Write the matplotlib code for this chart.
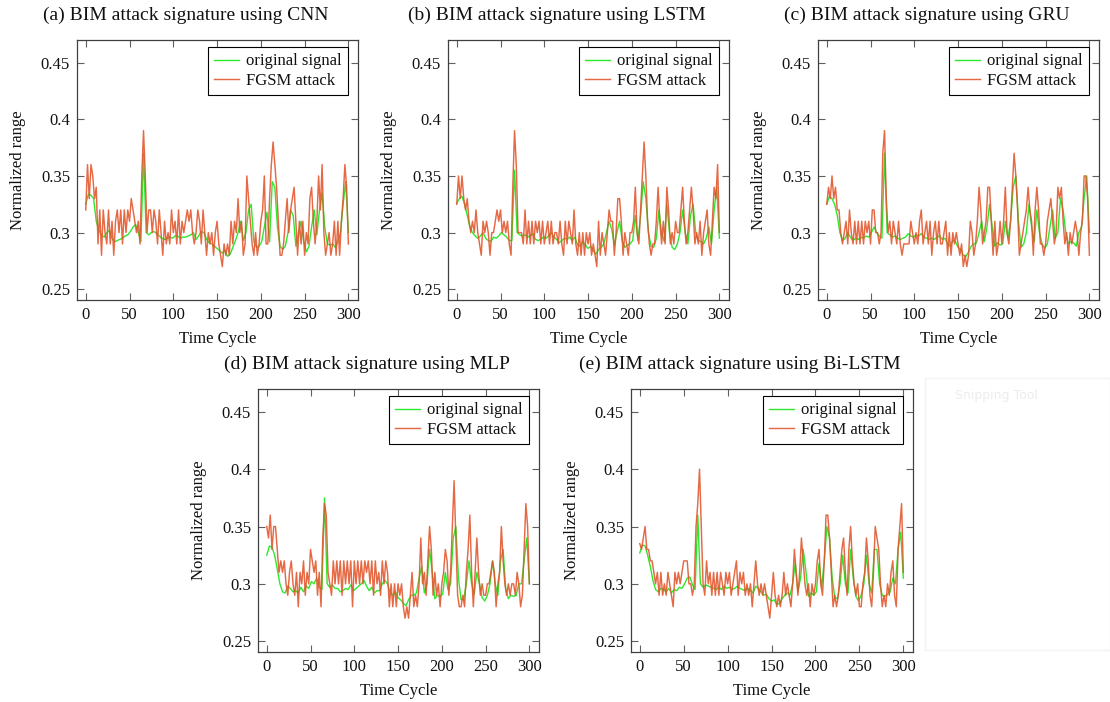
import numpy as np
import matplotlib
matplotlib.use("Agg")
import matplotlib.pyplot as plt
from matplotlib.patches import Rectangle

plt.rcParams['font.family'] = ['Liberation Serif', 'DejaVu Serif']
plt.rcParams['mathtext.fontset'] = 'stix'

# ---------------- data ----------------
titles = ["(a) BIM attack signature using CNN",
          "(b) BIM attack signature using LSTM",
          "(c) BIM attack signature using GRU",
          "(d) BIM attack signature using MLP",
          "(e) BIM attack signature using Bi-LSTM"]
legend_labels = ["original signal", "FGSM attack"]
xticks = [0, 50, 100, 150, 200, 250, 300]
yticks = [0.25, 0.30, 0.35, 0.40, 0.45]

# FGSM attack series, sampled every 2 time cycles (0..300)
cnn_fgsm = [0.32, 0.36, 0.33, 0.36, 0.35, 0.33, 0.34, 0.29, 0.32, 0.28,
            0.32, 0.30, 0.29, 0.32, 0.29, 0.31, 0.28, 0.31, 0.32, 0.30,
            0.32, 0.29, 0.32, 0.30, 0.32, 0.31, 0.33, 0.32, 0.31, 0.30,
            0.31, 0.29, 0.35, 0.39, 0.35, 0.30, 0.32, 0.32, 0.30, 0.32,
            0.31, 0.29, 0.32, 0.30, 0.28, 0.31, 0.29, 0.30, 0.29, 0.32,
            0.30, 0.31, 0.29, 0.32, 0.29, 0.31, 0.30, 0.31, 0.32, 0.31,
            0.32, 0.30, 0.29, 0.30, 0.32, 0.31, 0.29, 0.32, 0.30, 0.28,
            0.30, 0.29, 0.30, 0.28, 0.30, 0.31, 0.29, 0.28, 0.27, 0.29,
            0.28, 0.29, 0.28, 0.31, 0.29, 0.31, 0.30, 0.33, 0.30, 0.31,
            0.28, 0.29, 0.35, 0.33, 0.31, 0.29, 0.28, 0.30, 0.28, 0.29,
            0.31, 0.32, 0.35, 0.29, 0.29, 0.33, 0.36, 0.38, 0.36, 0.34,
            0.31, 0.28, 0.28, 0.29, 0.31, 0.33, 0.30, 0.32, 0.33, 0.34,
            0.31, 0.28, 0.31, 0.29, 0.31, 0.28, 0.30, 0.29, 0.33, 0.34,
            0.31, 0.29, 0.31, 0.35, 0.32, 0.36, 0.30, 0.28, 0.29, 0.30,
            0.28, 0.29, 0.31, 0.28, 0.31, 0.28, 0.31, 0.33, 0.36, 0.34,
            0.29]
lstm_fgsm = [0.325, 0.35, 0.33, 0.35, 0.33, 0.32, 0.33, 0.31, 0.30, 0.31,
             0.30, 0.32, 0.30, 0.29, 0.28, 0.31, 0.30, 0.31, 0.30, 0.28,
             0.30, 0.30, 0.31, 0.32, 0.31, 0.32, 0.30, 0.31, 0.30, 0.31,
             0.29, 0.28, 0.34, 0.39, 0.36, 0.30, 0.30, 0.30, 0.29, 0.32,
             0.29, 0.31, 0.29, 0.31, 0.29, 0.31, 0.30, 0.31, 0.29, 0.31,
             0.29, 0.30, 0.31, 0.29, 0.31, 0.29, 0.30, 0.30, 0.29, 0.31,
             0.29, 0.28, 0.31, 0.29, 0.31, 0.30, 0.29, 0.32, 0.29, 0.28,
             0.30, 0.28, 0.30, 0.28, 0.30, 0.29, 0.30, 0.28, 0.29, 0.28,
             0.27, 0.31, 0.28, 0.30, 0.29, 0.28, 0.30, 0.32, 0.31, 0.31,
             0.28, 0.30, 0.33, 0.33, 0.31, 0.28, 0.30, 0.29, 0.28, 0.30,
             0.30, 0.31, 0.34, 0.30, 0.29, 0.32, 0.35, 0.38, 0.35, 0.31,
             0.29, 0.28, 0.29, 0.29, 0.31, 0.34, 0.31, 0.29, 0.31, 0.29,
             0.34, 0.32, 0.29, 0.30, 0.29, 0.31, 0.30, 0.30, 0.32, 0.34,
             0.31, 0.29, 0.30, 0.32, 0.34, 0.32, 0.29, 0.30, 0.29, 0.31,
             0.28, 0.30, 0.31, 0.32, 0.29, 0.28, 0.31, 0.34, 0.33, 0.36,
             0.30]
gru_fgsm = [0.325, 0.34, 0.33, 0.35, 0.33, 0.34, 0.32, 0.32, 0.30, 0.29,
            0.30, 0.31, 0.29, 0.32, 0.30, 0.29, 0.31, 0.29, 0.31, 0.29,
            0.31, 0.29, 0.31, 0.30, 0.31, 0.29, 0.32, 0.32, 0.30, 0.30,
            0.29, 0.30, 0.37, 0.39, 0.33, 0.30, 0.31, 0.29, 0.31, 0.30,
            0.29, 0.31, 0.29, 0.28, 0.29, 0.29, 0.29, 0.29, 0.31, 0.30,
            0.29, 0.30, 0.29, 0.31, 0.32, 0.29, 0.30, 0.31, 0.29, 0.31,
            0.28, 0.30, 0.31, 0.29, 0.31, 0.29, 0.29, 0.30, 0.31, 0.28,
            0.30, 0.28, 0.30, 0.29, 0.30, 0.29, 0.28, 0.29, 0.27, 0.28,
            0.27, 0.28, 0.31, 0.30, 0.28, 0.29, 0.31, 0.34, 0.32, 0.29,
            0.30, 0.31, 0.34, 0.34, 0.31, 0.28, 0.31, 0.28, 0.29, 0.31,
            0.29, 0.31, 0.34, 0.30, 0.29, 0.31, 0.34, 0.37, 0.35, 0.32,
            0.28, 0.29, 0.30, 0.31, 0.32, 0.34, 0.32, 0.31, 0.28, 0.32,
            0.34, 0.32, 0.29, 0.29, 0.28, 0.29, 0.31, 0.32, 0.33, 0.31,
            0.29, 0.30, 0.34, 0.33, 0.34, 0.31, 0.29, 0.30, 0.28, 0.30,
            0.29, 0.30, 0.31, 0.30, 0.28, 0.30, 0.31, 0.35, 0.35, 0.33,
            0.28]
mlp_fgsm = [0.35, 0.34, 0.36, 0.33, 0.35, 0.35, 0.33, 0.31, 0.32, 0.31,
            0.32, 0.30, 0.29, 0.31, 0.32, 0.30, 0.29, 0.31, 0.28, 0.31,
            0.30, 0.32, 0.29, 0.31, 0.30, 0.33, 0.32, 0.31, 0.32, 0.29,
            0.31, 0.28, 0.34, 0.37, 0.36, 0.31, 0.30, 0.29, 0.32, 0.30,
            0.32, 0.30, 0.32, 0.29, 0.32, 0.30, 0.32, 0.30, 0.32, 0.28,
            0.32, 0.30, 0.32, 0.30, 0.32, 0.30, 0.32, 0.31, 0.32, 0.30,
            0.32, 0.29, 0.32, 0.30, 0.31, 0.29, 0.32, 0.30, 0.32, 0.31,
            0.28, 0.30, 0.28, 0.30, 0.28, 0.30, 0.29, 0.30, 0.28, 0.27,
            0.28, 0.27, 0.29, 0.31, 0.28, 0.29, 0.28, 0.30, 0.34, 0.30,
            0.31, 0.29, 0.32, 0.35, 0.33, 0.29, 0.31, 0.29, 0.30, 0.28,
            0.30, 0.31, 0.33, 0.32, 0.29, 0.31, 0.35, 0.39, 0.34, 0.29,
            0.28, 0.28, 0.29, 0.28, 0.31, 0.33, 0.36, 0.31, 0.28, 0.31,
            0.34, 0.31, 0.29, 0.30, 0.29, 0.29, 0.30, 0.30, 0.31, 0.32,
            0.31, 0.28, 0.30, 0.31, 0.35, 0.32, 0.30, 0.29, 0.30, 0.29,
            0.30, 0.30, 0.29, 0.31, 0.30, 0.28, 0.29, 0.33, 0.37, 0.35,
            0.30]
bilstm_fgsm = [0.335, 0.33, 0.34, 0.35, 0.33, 0.33, 0.32, 0.32, 0.31, 0.30,
               0.31, 0.29, 0.31, 0.29, 0.30, 0.29, 0.31, 0.30, 0.29, 0.28,
               0.31, 0.30, 0.31, 0.30, 0.31, 0.32, 0.32, 0.32, 0.30, 0.30,
               0.29, 0.30, 0.35, 0.37, 0.40, 0.35, 0.30, 0.29, 0.32, 0.30,
               0.31, 0.29, 0.31, 0.29, 0.31, 0.29, 0.31, 0.30, 0.29, 0.31,
               0.30, 0.31, 0.29, 0.30, 0.31, 0.32, 0.29, 0.31, 0.30, 0.31,
               0.29, 0.30, 0.29, 0.30, 0.28, 0.30, 0.32, 0.30, 0.29, 0.30,
               0.29, 0.30, 0.29, 0.28, 0.27, 0.29, 0.31, 0.29, 0.28, 0.29,
               0.28, 0.29, 0.31, 0.29, 0.30, 0.29, 0.28, 0.30, 0.33, 0.31,
               0.29, 0.31, 0.34, 0.32, 0.30, 0.29, 0.30, 0.28, 0.30, 0.29,
               0.30, 0.32, 0.33, 0.30, 0.29, 0.32, 0.36, 0.36, 0.34, 0.31,
               0.28, 0.29, 0.28, 0.29, 0.31, 0.33, 0.34, 0.31, 0.29, 0.33,
               0.35, 0.32, 0.30, 0.29, 0.30, 0.28, 0.28, 0.30, 0.31, 0.34,
               0.32, 0.29, 0.28, 0.31, 0.35, 0.34, 0.33, 0.30, 0.28, 0.29,
               0.28, 0.30, 0.29, 0.31, 0.32, 0.29, 0.28, 0.33, 0.35, 0.37,
               0.31]

# original signal series, sampled every 3 time cycles (0..300)
cnn_orig = [0.325, 0.334, 0.333, 0.330, 0.310, 0.302, 0.298, 0.296, 0.300, 0.302,
            0.295, 0.292, 0.293, 0.294, 0.295, 0.297, 0.298, 0.301, 0.305, 0.307,
            0.300, 0.292, 0.370, 0.300, 0.298, 0.300, 0.301, 0.299, 0.297, 0.295,
            0.294, 0.295, 0.296, 0.295, 0.297, 0.297, 0.295, 0.296, 0.296, 0.297,
            0.298, 0.300, 0.294, 0.297, 0.301, 0.300, 0.294, 0.291, 0.290, 0.288,
            0.286, 0.284, 0.282, 0.284, 0.279, 0.281, 0.287, 0.293, 0.300, 0.310,
            0.293, 0.300, 0.320, 0.325, 0.292, 0.287, 0.288, 0.292, 0.305, 0.318,
            0.292, 0.345, 0.340, 0.305, 0.288, 0.285, 0.288, 0.300, 0.320, 0.315,
            0.288, 0.300, 0.310, 0.292, 0.283, 0.288, 0.305, 0.320, 0.298, 0.320,
            0.335, 0.305, 0.290, 0.289, 0.290, 0.287, 0.292, 0.300, 0.325, 0.345,
            0.300]
lstm_orig = [0.326, 0.330, 0.332, 0.325, 0.315, 0.305, 0.300, 0.297, 0.295, 0.297,
             0.300, 0.295, 0.293, 0.292, 0.296, 0.295, 0.297, 0.300, 0.298, 0.296,
             0.293, 0.293, 0.355, 0.300, 0.298, 0.297, 0.298, 0.296, 0.297, 0.299,
             0.294, 0.293, 0.294, 0.296, 0.295, 0.297, 0.300, 0.296, 0.294, 0.291,
             0.293, 0.295, 0.294, 0.296, 0.293, 0.296, 0.289, 0.288, 0.292, 0.289,
             0.286, 0.288, 0.284, 0.281, 0.285, 0.287, 0.290, 0.300, 0.310, 0.303,
             0.289, 0.300, 0.310, 0.293, 0.287, 0.289, 0.290, 0.293, 0.315, 0.293,
             0.315, 0.345, 0.330, 0.300, 0.288, 0.287, 0.295, 0.320, 0.300, 0.292,
             0.325, 0.300, 0.287, 0.285, 0.290, 0.300, 0.320, 0.300, 0.290, 0.315,
             0.325, 0.300, 0.293, 0.292, 0.290, 0.295, 0.305, 0.290, 0.320, 0.340,
             0.295]
gru_orig = [0.325, 0.332, 0.330, 0.325, 0.315, 0.300, 0.293, 0.295, 0.300, 0.296,
            0.293, 0.295, 0.294, 0.296, 0.295, 0.297, 0.296, 0.300, 0.305, 0.300,
            0.297, 0.295, 0.370, 0.300, 0.298, 0.296, 0.297, 0.295, 0.294, 0.295,
            0.296, 0.299, 0.297, 0.296, 0.298, 0.297, 0.299, 0.296, 0.295, 0.294,
            0.295, 0.294, 0.296, 0.297, 0.294, 0.295, 0.290, 0.288, 0.293, 0.292,
            0.287, 0.285, 0.280, 0.279, 0.283, 0.288, 0.290, 0.291, 0.300, 0.310,
            0.292, 0.305, 0.325, 0.305, 0.288, 0.291, 0.289, 0.290, 0.310, 0.295,
            0.310, 0.340, 0.350, 0.310, 0.287, 0.290, 0.300, 0.325, 0.305, 0.292,
            0.320, 0.300, 0.290, 0.286, 0.290, 0.305, 0.320, 0.295, 0.300, 0.330,
            0.320, 0.300, 0.290, 0.292, 0.291, 0.288, 0.300, 0.305, 0.330, 0.350,
            0.300]
mlp_orig = [0.325, 0.333, 0.332, 0.325, 0.313, 0.300, 0.293, 0.292, 0.298, 0.296,
            0.293, 0.294, 0.292, 0.297, 0.293, 0.298, 0.296, 0.302, 0.300, 0.305,
            0.297, 0.295, 0.375, 0.300, 0.297, 0.299, 0.296, 0.296, 0.293, 0.294,
            0.296, 0.295, 0.299, 0.294, 0.296, 0.298, 0.300, 0.303, 0.298, 0.294,
            0.297, 0.292, 0.294, 0.294, 0.300, 0.303, 0.300, 0.292, 0.290, 0.293,
            0.288, 0.286, 0.283, 0.281, 0.286, 0.290, 0.290, 0.292, 0.305, 0.315,
            0.292, 0.300, 0.330, 0.310, 0.287, 0.290, 0.289, 0.291, 0.310, 0.295,
            0.300, 0.340, 0.350, 0.305, 0.286, 0.287, 0.300, 0.320, 0.300, 0.291,
            0.310, 0.300, 0.288, 0.285, 0.290, 0.300, 0.320, 0.300, 0.290, 0.320,
            0.330, 0.295, 0.287, 0.290, 0.289, 0.290, 0.300, 0.300, 0.320, 0.340,
            0.300]
bilstm_orig = [0.327, 0.334, 0.333, 0.325, 0.315, 0.303, 0.295, 0.293, 0.296, 0.295,
               0.293, 0.296, 0.292, 0.295, 0.294, 0.297, 0.296, 0.300, 0.305, 0.306,
               0.299, 0.295, 0.360, 0.300, 0.297, 0.299, 0.298, 0.297, 0.296, 0.295,
               0.297, 0.295, 0.298, 0.296, 0.297, 0.295, 0.296, 0.298, 0.296, 0.295,
               0.294, 0.296, 0.294, 0.292, 0.298, 0.296, 0.293, 0.290, 0.291, 0.287,
               0.285, 0.286, 0.282, 0.283, 0.287, 0.290, 0.292, 0.290, 0.300, 0.318,
               0.293, 0.305, 0.330, 0.312, 0.289, 0.292, 0.290, 0.293, 0.318, 0.297,
               0.320, 0.350, 0.340, 0.305, 0.288, 0.287, 0.300, 0.325, 0.300, 0.292,
               0.330, 0.305, 0.289, 0.285, 0.290, 0.300, 0.325, 0.300, 0.292, 0.330,
               0.330, 0.300, 0.290, 0.289, 0.291, 0.293, 0.305, 0.300, 0.330, 0.345,
               0.305]

orig_series = [cnn_orig, lstm_orig, gru_orig, mlp_orig, bilstm_orig]
fgsm_series = [cnn_fgsm, lstm_fgsm, gru_fgsm, mlp_fgsm, bilstm_fgsm]

# ---------------- layout ----------------
W, H = 1110, 702
fig = plt.figure(figsize=(W / 100, H / 100), dpi=100)

# axes boxes in pixels: (left, top, right, bottom)
boxes = [(77, 40, 358, 300), (448, 40, 729, 300), (818, 40, 1099, 300),
         (258, 389, 539, 652), (631, 389, 913, 652)]

GREEN = '#2EE82E'
ORANGE = '#E2542A'
TXT = '#111111'

for i, (l, t, r, b) in enumerate(boxes):
    ax = fig.add_axes([l / W, 1 - b / H, (r - l) / W, (b - t) / H])
    yo = orig_series[i]
    yf = fgsm_series[i]
    to = np.linspace(0, 300, len(yo))
    tf = np.linspace(0, 300, len(yf))
    ax.plot(to, yo, color=GREEN, lw=1.0, label=legend_labels[0], zorder=2)
    ax.plot(tf, yf, color=ORANGE, lw=1.05, alpha=0.88, label=legend_labels[1], zorder=3)
    ax.set_xlim(-10, 311)
    ax.set_ylim(0.2405, 0.4700)
    ax.set_xticks(xticks)
    ax.set_yticks(yticks)
    ax.set_xticklabels([str(v) for v in xticks])
    ax.set_yticklabels([f"{v:g}" for v in yticks])
    ax.tick_params(direction='in', top=True, right=True, length=5, width=0.8,
                   color='#606060', labelsize=12, labelcolor=TXT)
    ax.tick_params(axis='y', pad=5)
    ax.tick_params(axis='x', pad=5)
    for sp in ax.spines.values():
        sp.set_color('#404040')
        sp.set_linewidth(0.9)
    leg = ax.legend(loc='upper right', bbox_to_anchor=((r - 10 - l) / (r - l), 1 - 7 / (b - t)),
                    borderaxespad=0, fontsize=12, frameon=True, fancybox=False,
                    framealpha=1, edgecolor='black', handlelength=1.45,
                    handletextpad=0.45, borderpad=0.38, labelspacing=0.22)
    leg.get_frame().set_linewidth(0.8)
    for txt in leg.get_texts():
        txt.set_color(TXT)

    cx = (l + r) / 2
    # title (sub-caption), centred on the sub-figure including the y label
    fig.text((cx - 32) / W, 1 - (t - 25) / H, titles[i], ha='center', va='center',
             fontsize=14, color=TXT)
    # axis labels
    fig.text((l - 59) / W, 1 - ((t + b) / 2) / H, "Normalized range", rotation=90,
             ha='center', va='center', fontsize=12, color=TXT)
    fig.text(cx / W, 1 - (b + 39) / H, "Time Cycle", ha='center', va='center',
             fontsize=12, color=TXT)

# faint screenshot-tool artefact in the lower right corner
fig.patches.append(Rectangle((925 / W, 1 - 650 / H), (1110 - 925) / W, (650 - 378) / H,
                             transform=fig.transFigure, fill=False,
                             edgecolor='#f2f2f2', linewidth=1.0))
fig.text(955 / W, 1 - 396 / H, "Snipping Tool", ha='left', va='center',
         fontsize=9, color='#ececec', family=['DejaVu Sans'])

fig.savefig("out.png", dpi=100)
